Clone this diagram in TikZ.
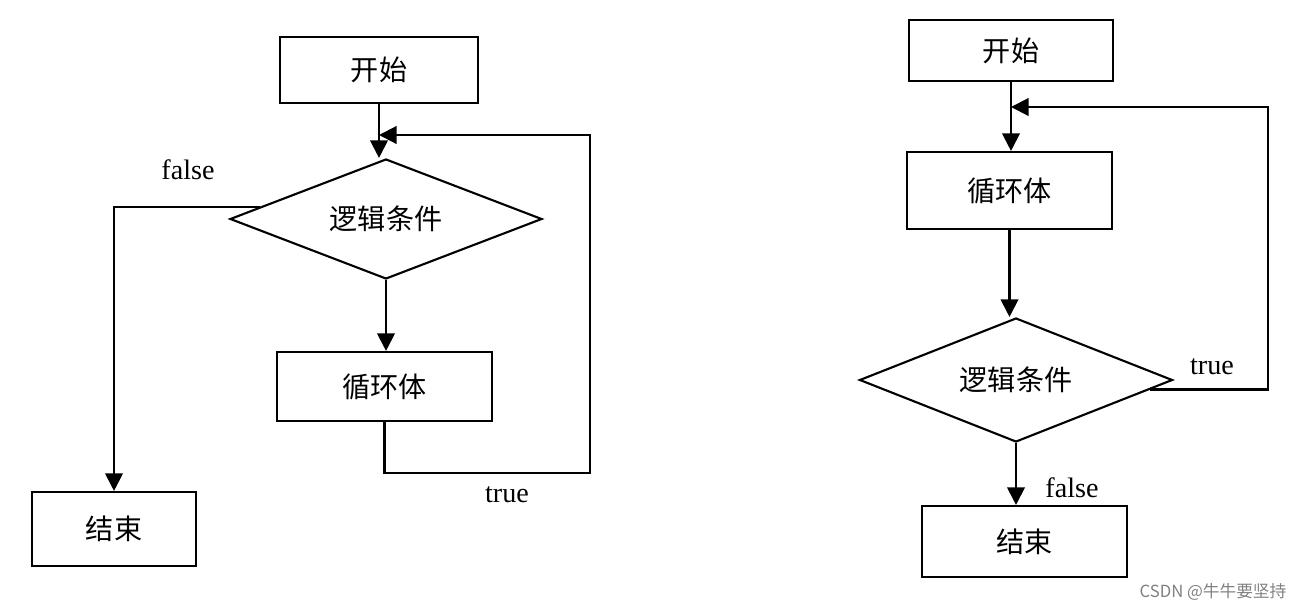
\documentclass[tikz,border=0pt]{standalone}
\usepackage{fontspec}
\setmainfont{Liberation Serif}
\newfontfamily\cjk{Noto Sans CJK SC}
\usetikzlibrary{calc, positioning}
\usetikzlibrary{shapes.geometric}
\usetikzlibrary{arrows.meta}

\tikzset{
  flow/.style={line width=1.2pt, line join=miter},
  arr/.style={flow, -{Triangle[length=10pt,width=10pt]}},
  procbox/.style={draw, flow, rectangle, inner sep=0pt,
    font=\cjk\fontsize{16}{18}\selectfont},
  testbox/.style={draw, flow, diamond, aspect=2.6, inner sep=0pt,
    font=\cjk\fontsize{16}{18}\selectfont},
  branchlbl/.style={font=\fontsize{16}{18}\selectfont}
}

\begin{document}
\begin{tikzpicture}[line cap=butt]
\path[use as bounding box] (0,0) rectangle (26,-12.24);

% left chart: test first
\node[procbox, minimum width=3.96cm, minimum height=1.32cm] (startA) at (7.58,-1.40) {开始};
\node[testbox, minimum width=6.24cm, minimum height=2.40cm] (testA) at (7.72,-4.38) {逻辑条件};
\node[procbox, minimum width=4.30cm, minimum height=1.38cm] (bodyA) at (7.69,-7.73) {循环体};
\node[procbox, minimum width=3.28cm, minimum height=1.48cm] (endA) at (2.28,-10.58) {结束};

\coordinate (joinA) at (startA.south |- 0,-2.70);
\coordinate (falseA) at ($(testA.west)!0.2!(testA.north)$);

\draw[arr] (startA.south) -- (startA.south |- testA.north);
\draw[arr] (testA.south) -- (testA.south |- bodyA.north);
\draw[arr] (bodyA.south) |- (11.80,-9.46) |- (joinA);
\draw[arr] (falseA) -| (endA.north);

\node[branchlbl] (falseAlbl) at (3.76,-3.40) {false};
\node[branchlbl] (trueAlbl) at (10.14,-9.90) {true};

% right chart: body first
\node[procbox, minimum width=4.08cm, minimum height=1.22cm] (startB) at (20.22,-1.01) {开始};
\node[procbox, minimum width=4.10cm, minimum height=1.54cm] (bodyB) at (20.19,-3.81) {循环体};
\node[testbox, minimum width=6.26cm, minimum height=2.48cm] (testB) at (20.32,-7.60) {逻辑条件};
\node[procbox, minimum width=4.10cm, minimum height=1.42cm] (endB) at (20.49,-10.83) {结束};

\coordinate (joinB) at (startB.south |- 0,-2.14);
\coordinate (trueB) at ($(testB.east)!0.15!(testB.south)$);

\draw[arr] (startB.south) -- (startB.south |- bodyB.north);
\draw[arr] (bodyB.south) -- (bodyB.south |- testB.north);
\draw[arr] (testB.south) -- (testB.south |- endB.north);
\draw[arr] (trueB) -- (trueB -| 25.36,0) |- (joinB);

\node[branchlbl] (trueBlbl) at (24.24,-7.34) {true};
\node[branchlbl] (falseBlbl) at (21.44,-9.76) {false};

\node[text=gray, font=\cjk\fontsize{9.5}{11}\selectfont] (mark) at (24.26,-11.84) {CSDN @牛牛要坚持};
\end{tikzpicture}
\end{document}
